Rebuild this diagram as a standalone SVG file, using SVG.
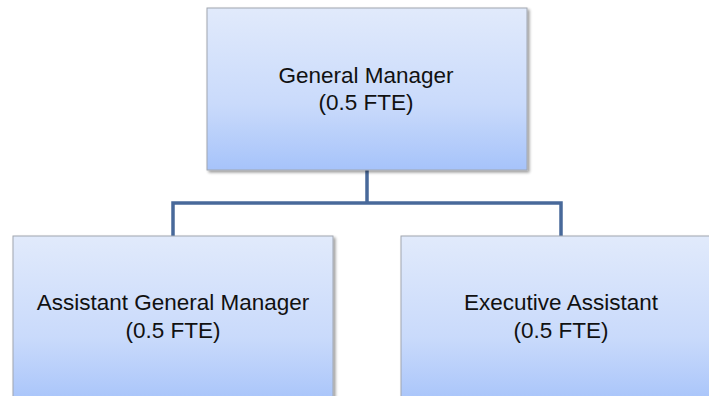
<svg xmlns="http://www.w3.org/2000/svg" width="709" height="396" viewBox="0 0 709 396">
<defs>
<linearGradient id="g" x1="0" y1="0" x2="0" y2="1">
<stop offset="0" stop-color="#e1eafb"/>
<stop offset="0.6" stop-color="#c9dafb"/>
<stop offset="1" stop-color="#a6c3fa"/>
</linearGradient>
<filter id="sh" x="-5%" y="-5%" width="112%" height="115%">
<feGaussianBlur in="SourceAlpha" stdDeviation="1.5"/>
<feOffset dx="2" dy="2"/>
<feComponentTransfer><feFuncA type="linear" slope="0.4"/></feComponentTransfer>
<feMerge><feMergeNode/><feMergeNode in="SourceGraphic"/></feMerge>
</filter>
</defs>
<style>
.box{fill:url(#g);stroke:#a0a6b0;stroke-width:1;filter:url(#sh)}
.t{font-family:"Liberation Sans","Open Sans",sans-serif;font-size:22.5px;fill:#111;text-anchor:middle}
.c{fill:none;stroke:#48699a;stroke-width:3.5}
</style>
<rect width="709" height="396" fill="#fff"/>
<g id="connectors">
<path class="c" d="M367 170 V203 M173 236 V203 H561 V236"/>
</g>
<g id="general-manager">
<rect class="box" x="207" y="8" width="320" height="162"/>
<text class="t" x="366" y="83">General Manager</text>
<text class="t" x="366" y="110">(0.5 FTE)</text>
</g>
<g id="assistant-general-manager">
<rect class="box" x="13" y="236" width="320" height="170"/>
<text class="t" x="173" y="310">Assistant General Manager</text>
<text class="t" x="173" y="338">(0.5 FTE)</text>
</g>
<g id="executive-assistant">
<rect class="box" x="401" y="236" width="320" height="170"/>
<text class="t" x="561" y="310">Executive Assistant</text>
<text class="t" x="561" y="338">(0.5 FTE)</text>
</g>
</svg>
